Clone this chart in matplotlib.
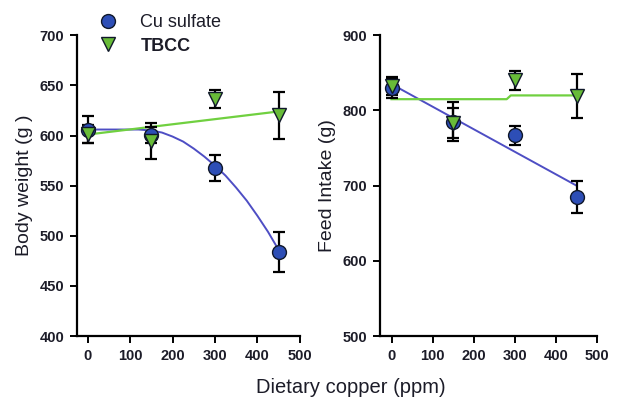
import matplotlib
matplotlib.use("Agg")
import matplotlib.pyplot as plt
from matplotlib.lines import Line2D

plt.rcParams['font.family'] = ['Liberation Sans', 'DejaVu Sans']

# dietary copper levels (ppm)
copper = [0, 150, 300, 450]

# body weight (g)
bw_cu = [606, 601, 568, 484]
bw_cu_err = [13, 8, 13, 20]
bw_tbcc = [602, 595, 636, 620]
bw_tbcc_err = [9, 18, 9, 23]

# feed intake (g)
fi_cu = [830, 785, 767, 685]
fi_cu_err = [14, 26, 13, 21]
fi_tbcc = [832, 783, 840, 819]
fi_tbcc_err = [11, 20, 13, 29]

# fitted lines
bw_cu_fit_x = [0, 120, 150, 175, 200, 225, 250, 275, 300, 325, 350, 375,
               400, 425, 450]
bw_cu_fit_y = [606, 606, 605, 603, 599, 594, 587, 579, 570, 560, 548, 535,
               520, 504, 486]
bw_tbcc_fit_x = [0, 450]
bw_tbcc_fit_y = [601, 624]
fi_cu_fit_x = [0, 450]
fi_cu_fit_y = [835, 700]
fi_tbcc_fit_x = [0, 280, 290, 450]
fi_tbcc_fit_y = [815, 815, 820, 820]

blue = "#2d4eb6"
green = "#68bb38"
blue_line = "#4e4ec4"
green_line = "#70d040"
txt = "#1c1c28"

fig = plt.figure(figsize=(6.26, 4.05), dpi=100)
ax1 = fig.add_axes([0.123, 0.170, 0.356, 0.743])
ax2 = fig.add_axes([0.607, 0.170, 0.347, 0.743])


def draw(ax, cu, cu_err, tb, tb_err, cfx, cfy, tfx, tfy):
    ax.plot(cfx, cfy, color=blue_line, lw=1.4, zorder=2)
    ax.plot(tfx, tfy, color=green_line, lw=1.6, zorder=2)
    ax.errorbar(copper, cu, yerr=cu_err, fmt="none", ecolor="black",
                elinewidth=1.6, capsize=4, capthick=1.6, zorder=3)
    ax.errorbar(copper, tb, yerr=tb_err, fmt="none", ecolor="black",
                elinewidth=1.6, capsize=4, capthick=1.6, zorder=3)
    ax.plot(copper, cu, "o", color=blue, mec="#10182a", mew=1.0, ms=10, zorder=4)
    ax.plot(copper, tb, "v", color=green, mec="#10182a", mew=1.0, ms=10, zorder=5)
    for s in ["top", "right"]:
        ax.spines[s].set_visible(False)
    for s in ["left", "bottom"]:
        ax.spines[s].set_linewidth(1.6)
    ax.tick_params(width=1.4, length=5, labelsize=10.5, colors="black",
                   labelcolor=txt, pad=4)


draw(ax1, bw_cu, bw_cu_err, bw_tbcc, bw_tbcc_err,
     bw_cu_fit_x, bw_cu_fit_y, bw_tbcc_fit_x, bw_tbcc_fit_y)
ax1.set_xlim(-25, 500)
ax1.set_ylim(400, 700)
ax1.set_xticks([0, 100, 200, 300, 400, 500])
ax1.set_yticks([400, 450, 500, 550, 600, 650, 700])
ax1.set_ylabel("Body weight (g )", fontsize=14, color=txt, labelpad=5)

draw(ax2, fi_cu, fi_cu_err, fi_tbcc, fi_tbcc_err,
     fi_cu_fit_x, fi_cu_fit_y, fi_tbcc_fit_x, fi_tbcc_fit_y)
ax2.set_xlim(-28, 500)
ax2.set_ylim(500, 900)
ax2.set_xticks([0, 100, 200, 300, 400, 500])
ax2.set_yticks([500, 600, 700, 800, 900])
ax2.set_ylabel("Feed Intake (g)", fontsize=14, color=txt, labelpad=5)

for a in (ax1, ax2):
    for lab in a.get_xticklabels() + a.get_yticklabels():
        lab.set_fontweight("bold")

fig.text(0.561, 0.044, "Dietary copper (ppm)", ha="center", va="center",
         fontsize=14.5, color=txt)

handles = [Line2D([], [], ls="none", marker="o", color=blue, mec="#10182a",
                  mew=1.0, ms=10),
           Line2D([], [], ls="none", marker="v", color=green, mec="#10182a",
                  mew=1.0, ms=10)]
leg = fig.legend(handles, ["Cu sulfate", "TBCC"], loc="upper left",
                 bbox_to_anchor=(0.132, 1.005), frameon=False, fontsize=13,
                 handlelength=1.0, handletextpad=1.3, labelspacing=0.35)
for t in leg.get_texts():
    t.set_color(txt)
leg.get_texts()[1].set_fontweight("bold")

fig.savefig("out.png", dpi=100)
